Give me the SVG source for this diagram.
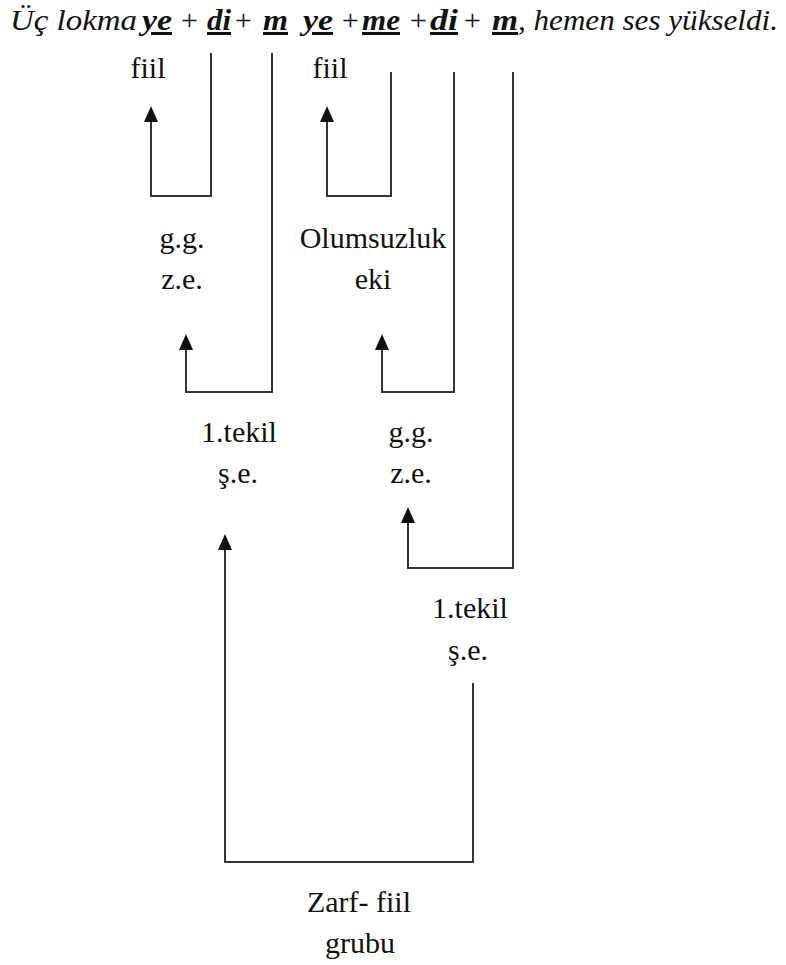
<svg xmlns="http://www.w3.org/2000/svg" width="786" height="965" viewBox="0 0 786 965">
<defs>
<style>
text{font-family:'Liberation Serif','Times New Roman',serif;fill:#111}
.lbl{font-size:30px;text-anchor:middle}
.hd{font-size:30px;font-style:italic}
.b{font-weight:bold;text-decoration:underline}
.p{text-anchor:middle}
.c{fill:none;stroke:#333;stroke-width:2}
</style>
<marker id="ah" markerUnits="userSpaceOnUse" markerWidth="16" markerHeight="14" viewBox="0 0 16 14" refX="0" refY="7" orient="auto">
<path d="M0,0 L16,7 L0,14 Z" fill="#111"/>
</marker>
</defs>
<rect width="786" height="965" fill="#fff"/>
<g id="header">
<text class="hd" y="30"><tspan x="10" textLength="127" lengthAdjust="spacingAndGlyphs">Üç lokma</tspan><tspan class="b" x="142" textLength="30" lengthAdjust="spacingAndGlyphs">ye</tspan><tspan class="p" x="189">+</tspan><tspan class="b" x="207" textLength="24" lengthAdjust="spacingAndGlyphs">di</tspan><tspan class="p" x="243">+</tspan><tspan class="b" x="263" textLength="25" lengthAdjust="spacingAndGlyphs">m</tspan><tspan class="b" x="303" textLength="30" lengthAdjust="spacingAndGlyphs">ye</tspan><tspan class="p" x="350">+</tspan><tspan class="b" x="362" textLength="38" lengthAdjust="spacingAndGlyphs">me</tspan><tspan class="p" x="418">+</tspan><tspan class="b" x="430" textLength="28" lengthAdjust="spacingAndGlyphs">di</tspan><tspan class="p" x="472">+</tspan><tspan class="b" x="492" textLength="26" lengthAdjust="spacingAndGlyphs">m</tspan><tspan x="518" textLength="260" lengthAdjust="spacingAndGlyphs">, hemen ses yükseldi.</tspan></text>
</g>
<g id="connectors">
<path class="c" d="M211,53 V196 H151 V122" marker-end="url(#ah)"/>
<path class="c" d="M272,53 V392 H186 V350" marker-end="url(#ah)"/>
<path class="c" d="M391,72 V196 H327 V122" marker-end="url(#ah)"/>
<path class="c" d="M454,72 V392 H382 V350" marker-end="url(#ah)"/>
<path class="c" d="M513,72 V568 H408 V523" marker-end="url(#ah)"/>
<path class="c" d="M473,683 V862 H225 V550" marker-end="url(#ah)"/>
</g>
<g id="fiil1"><text class="lbl" x="148" y="78">fiil</text></g>
<g id="fiil2"><text class="lbl" x="330" y="78">fiil</text></g>
<g id="gg1"><text class="lbl" x="182" y="248">g.g.</text><text class="lbl" x="182" y="289">z.e.</text></g>
<g id="olumsuzluk"><text class="lbl" x="373" y="248">Olumsuzluk</text><text class="lbl" x="373" y="289">eki</text></g>
<g id="tekil1"><text class="lbl" x="239" y="442">1.tekil</text><text class="lbl" x="238" y="483">ş.e.</text></g>
<g id="gg2"><text class="lbl" x="411" y="442">g.g.</text><text class="lbl" x="411" y="483">z.e.</text></g>
<g id="tekil2"><text class="lbl" x="470" y="618">1.tekil</text><text class="lbl" x="468" y="660">ş.e.</text></g>
<g id="zarffiil"><text class="lbl" x="359" y="912">Zarf- fiil</text><text class="lbl" x="360" y="953">grubu</text></g>
</svg>
